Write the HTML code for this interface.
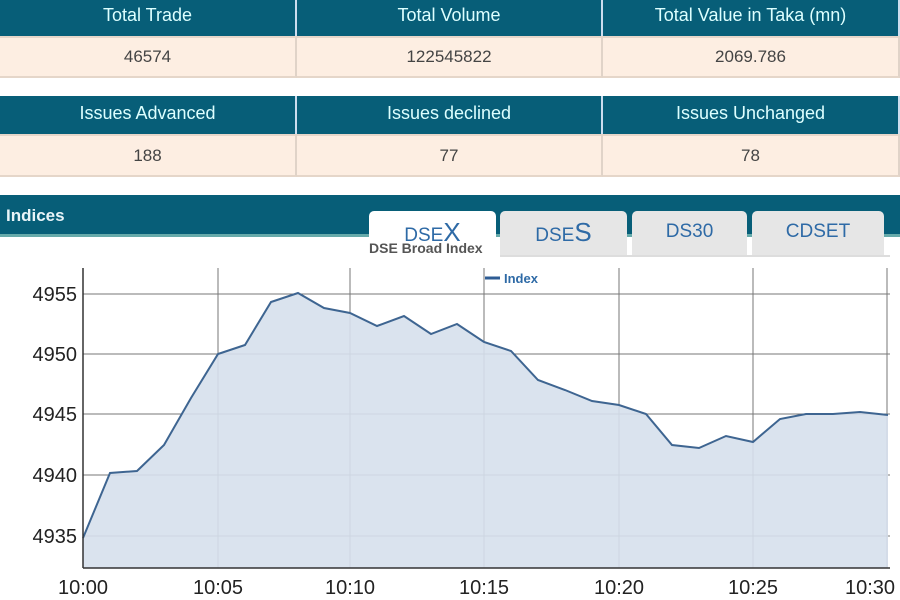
<!DOCTYPE html>
<html><head><style>
body{margin:0;width:900px;height:600px;overflow:hidden;background:#fff;font-family:"Liberation Sans",Arial,sans-serif;position:relative}
.row{position:absolute;left:0;width:900px;display:flex}
.row div{box-sizing:border-box;text-align:center;border-right:2px solid #ddd}
.h div{background:#075e78;color:#dff;font-size:18px;border-right:2px solid #cde}
.v div{background:#fdeee2;color:#444;font-size:17px;border-right:2px solid #e0d3c8;border-top:2px solid #e5d6c9;border-bottom:2px solid #e5d6c9}
.c1{width:297px}.c2{width:306px}.c3{width:297px}
.tab{position:absolute;top:211px;height:44px;background:#e6e6e6;border-radius:5px 5px 0 0;color:#2e6aa6;font-size:19px;text-align:center;line-height:42px}
</style></head><body>
<div class="row h" style="top:0;height:36px;line-height:30px"><div class="c1">Total Trade</div><div class="c2">Total Volume</div><div class="c3">Total Value in Taka (mn)</div></div>
<div class="row v" style="top:36px;height:42px;line-height:38px"><div class="c1">46574</div><div class="c2">122545822</div><div class="c3">2069.786</div></div>
<div class="row h" style="top:96px;height:38px;line-height:34px"><div class="c1">Issues Advanced</div><div class="c2">Issues declined</div><div class="c3">Issues Unchanged</div></div>
<div class="row v" style="top:134px;height:43px;line-height:39px"><div class="c1">188</div><div class="c2">77</div><div class="c3">78</div></div>
<div style="position:absolute;top:195px;left:0;width:900px;height:42px;background:#075e78;border-bottom:3px solid #6aa;box-sizing:border-box"></div>
<div style="position:absolute;top:206px;left:6px;color:#e8f4f8;font-size:17px;font-weight:bold">Indices</div>
<div class="tab" style="left:369px;width:127px;background:#fff">DSE<span style="font-size:26px">X</span></div>
<div class="tab" style="left:500px;width:127px">DSE<span style="font-size:26px">S</span></div>
<div class="tab" style="left:632px;width:115px">DS30</div>
<div class="tab" style="left:752px;width:132px">CDSET</div>
<div style="position:absolute;top:255px;left:500px;width:390px;height:2px;background:#ddd"></div>
<div style="position:absolute;top:240px;left:369px;font-size:14px;font-weight:bold;color:#555">DSE Broad Index</div>
<svg style="position:absolute;left:0;top:0" width="900" height="600">
<g stroke="#777" stroke-width="1">
<line x1="83" y1="294" x2="890" y2="294"/><line x1="83" y1="354" x2="890" y2="354"/><line x1="83" y1="414" x2="890" y2="414"/><line x1="83" y1="475" x2="890" y2="475"/><line x1="83" y1="536" x2="890" y2="536"/>
<line x1="218" y1="268" x2="218" y2="568"/><line x1="350" y1="268" x2="350" y2="568"/><line x1="484" y1="268" x2="484" y2="568"/><line x1="619" y1="268" x2="619" y2="568"/><line x1="753" y1="268" x2="753" y2="568"/><line x1="887" y1="268" x2="887" y2="568"/>
</g>
<polygon fill="#d6e0ec" fill-opacity="0.9" points="83,568 83,538 110,473 137,471 164,445 191,398 218,354 245,345 271,302 298,293 324,308 350,313 377,326 404,316 431,334 457,324 484,342 511,351 538,380 565,390 592,401 619,405 646,414 672,445 699,448 726,436 753,442 780,419 806,414 833,414 860,412 888,415 888,568"/>
<polyline fill="none" stroke="#3e6591" stroke-width="2" points="83,538 110,473 137,471 164,445 191,398 218,354 245,345 271,302 298,293 324,308 350,313 377,326 404,316 431,334 457,324 484,342 511,351 538,380 565,390 592,401 619,405 646,414 672,445 699,448 726,436 753,442 780,419 806,414 833,414 860,412 888,415"/>
<line x1="83" y1="268" x2="83" y2="568" stroke="#333" stroke-width="1.5"/>
<line x1="83" y1="568" x2="890" y2="568" stroke="#333" stroke-width="1.5"/>
<line x1="485" y1="278" x2="500" y2="278" stroke="#2e5c94" stroke-width="3"/>
<text x="504" y="283" font-size="13" font-weight="bold" fill="#2e6aa6" font-family="Liberation Sans">Index</text>
<g font-size="20" fill="#222" font-family="Liberation Sans" text-anchor="end">
<text x="77" y="301">4955</text><text x="77" y="361">4950</text><text x="77" y="421">4945</text><text x="77" y="482">4940</text><text x="77" y="543">4935</text></g>
<g font-size="20" fill="#222" font-family="Liberation Sans" text-anchor="middle">
<text x="83" y="594">10:00</text><text x="218" y="594">10:05</text><text x="350" y="594">10:10</text><text x="484" y="594">10:15</text><text x="619" y="594">10:20</text><text x="753" y="594">10:25</text><text x="870" y="594">10:30</text></g>
</svg>
</body></html>
